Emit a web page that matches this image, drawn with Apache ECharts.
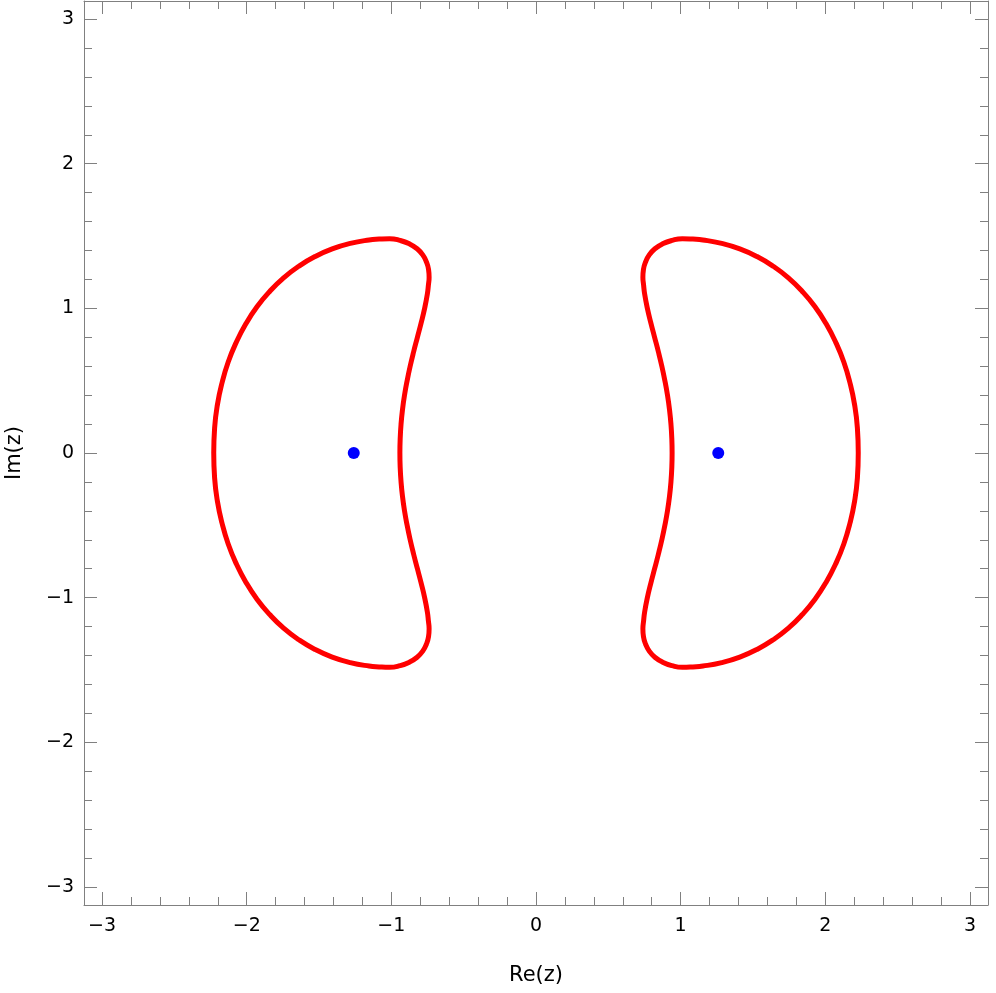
<!DOCTYPE html>
<html>
<head>
<meta charset="utf-8">
<script src="https://cdn.jsdelivr.net/npm/echarts@6/dist/echarts.min.js"></script>
<style>html,body{margin:0;padding:0;background:#fff}#c{width:996px;height:993px}</style>
</head>
<body>
<div id="c"></div>
<script>
// Axis ticks
const majorTicks = [-3, -2, -1, 0, 1, 2, 3];
const minorTicks = [-2.8, -2.6, -2.4, -2.2, -1.8, -1.6, -1.4, -1.2, -0.8, -0.6, -0.4, -0.2,
                    0.2, 0.4, 0.6, 0.8, 1.2, 1.4, 1.6, 1.8, 2.2, 2.4, 2.6, 2.8];
const axisMin = -3.125, axisMax = 3.125;

// Left contour: upper half, then lower half
const leftUpper = [
  [-2.228, 0.000], [-2.222, 0.173], [-2.203, 0.332], [-2.171, 0.484], [-2.128, 0.629],
  [-2.072, 0.766], [-2.006, 0.893], [-1.929, 1.011], [-1.841, 1.117], [-1.745, 1.211],
  [-1.640, 1.291], [-1.528, 1.358], [-1.409, 1.411], [-1.284, 1.449], [-1.154, 1.473],
  [-1.085, 1.479], [-1.012, 1.482], [-0.940, 1.470], [-0.875, 1.446], [-0.822, 1.412],
  [-0.783, 1.370], [-0.758, 1.322], [-0.743, 1.270], [-0.739, 1.215], [-0.744, 1.160],
  [-0.751, 1.100], [-0.770, 1.000], [-0.794, 0.900], [-0.820, 0.800], [-0.846, 0.700],
  [-0.870, 0.600], [-0.891, 0.500], [-0.909, 0.400], [-0.923, 0.300], [-0.933, 0.200],
  [-0.939, 0.100], [-0.941, 0.000]
];
const leftLower = [
  [-0.939, -0.100], [-0.933, -0.200], [-0.923, -0.300], [-0.909, -0.400], [-0.891, -0.500],
  [-0.870, -0.600], [-0.846, -0.700], [-0.820, -0.800], [-0.794, -0.900], [-0.770, -1.000],
  [-0.751, -1.100], [-0.744, -1.160], [-0.739, -1.215], [-0.743, -1.270], [-0.758, -1.322],
  [-0.783, -1.370], [-0.822, -1.412], [-0.875, -1.446], [-0.940, -1.470], [-1.012, -1.482],
  [-1.085, -1.479], [-1.154, -1.473], [-1.284, -1.449], [-1.409, -1.411], [-1.528, -1.358],
  [-1.640, -1.291], [-1.745, -1.211], [-1.841, -1.117], [-1.929, -1.011], [-2.006, -0.893],
  [-2.072, -0.766], [-2.128, -0.629], [-2.171, -0.484], [-2.203, -0.332], [-2.222, -0.173],
  [-2.228, 0.000]
];
// Right contour
const rightUpper = [
  [2.228, 0.000], [2.222, 0.173], [2.203, 0.332], [2.171, 0.484], [2.128, 0.629],
  [2.072, 0.766], [2.006, 0.893], [1.929, 1.011], [1.841, 1.117], [1.745, 1.211],
  [1.640, 1.291], [1.528, 1.358], [1.409, 1.411], [1.284, 1.449], [1.154, 1.473],
  [1.085, 1.479], [1.012, 1.482], [0.940, 1.470], [0.875, 1.446], [0.822, 1.412],
  [0.783, 1.370], [0.758, 1.322], [0.743, 1.270], [0.739, 1.215], [0.744, 1.160],
  [0.751, 1.100], [0.770, 1.000], [0.794, 0.900], [0.820, 0.800], [0.846, 0.700],
  [0.870, 0.600], [0.891, 0.500], [0.909, 0.400], [0.923, 0.300], [0.933, 0.200],
  [0.939, 0.100], [0.941, 0.000]
];
const rightLower = [
  [0.939, -0.100], [0.933, -0.200], [0.923, -0.300], [0.909, -0.400], [0.891, -0.500],
  [0.870, -0.600], [0.846, -0.700], [0.820, -0.800], [0.794, -0.900], [0.770, -1.000],
  [0.751, -1.100], [0.744, -1.160], [0.739, -1.215], [0.743, -1.270], [0.758, -1.322],
  [0.783, -1.370], [0.822, -1.412], [0.875, -1.446], [0.940, -1.470], [1.012, -1.482],
  [1.085, -1.479], [1.154, -1.473], [1.284, -1.449], [1.409, -1.411], [1.528, -1.358],
  [1.640, -1.291], [1.745, -1.211], [1.841, -1.117], [1.929, -1.011], [2.006, -0.893],
  [2.072, -0.766], [2.128, -0.629], [2.171, -0.484], [2.203, -0.332], [2.222, -0.173],
  [2.228, 0.000]
];
// Blue points
const roots = [[-1.26, 0], [1.26, 0]];

const frameColor = '#808080';
const fontFamily = 'DejaVu Sans';
const fmt = v => (v < 0 ? '\u2212' + Math.abs(v) : String(v));

function mkAxis(pos, kind, extra) {
  const major = kind === 'major';
  const labelled = extra && extra.labelled;
  const ax = {
    type: 'value', position: pos, min: axisMin, max: axisMax,
    splitLine: { show: false },
    axisLine: { show: major, onZero: false, lineStyle: { color: frameColor, width: 1 } },
    axisTick: { show: true, inside: true, length: major ? 13 : 8,
                customValues: major ? majorTicks : minorTicks,
                lineStyle: { color: frameColor, width: 1 } },
    axisLabel: { show: !!labelled, customValues: majorTicks, formatter: fmt,
                 fontFamily: fontFamily, fontSize: 19, color: '#000',
                 margin: (pos === 'bottom') ? 12 : 10 },
    axisPointer: { show: false }
  };
  if (extra && extra.name) {
    ax.name = extra.name;
    ax.nameLocation = 'middle';
    ax.nameGap = extra.nameGap;
    ax.nameTextStyle = { fontFamily: fontFamily, fontSize: 21, color: '#000' };
  }
  return ax;
}

const chart = echarts.init(document.getElementById('c'), null, { renderer: 'canvas' });
chart.setOption({
  animation: false,
  backgroundColor: '#fff',
  grid: { left: 84, top: 1, right: 8, bottom: 88, containLabel: false, outerBoundsMode: 'none' },
  xAxis: [
    mkAxis('bottom', 'major', { labelled: true, name: 'Re(z)', nameGap: 60 }),
    mkAxis('bottom', 'minor'),
    mkAxis('top', 'major'),
    mkAxis('top', 'minor')
  ],
  yAxis: [
    mkAxis('left', 'major', { labelled: true, name: 'Im(z)', nameGap: 59 }),
    mkAxis('left', 'minor'),
    mkAxis('right', 'major'),
    mkAxis('right', 'minor')
  ],
  series: [
    { type: 'line', data: leftUpper.concat(leftLower), showSymbol: false, smooth: 0.5,
      lineStyle: { color: '#ff0000', width: 5 }, silent: true },
    { type: 'line', data: rightUpper.concat(rightLower), showSymbol: false, smooth: 0.5,
      lineStyle: { color: '#ff0000', width: 5 }, silent: true },
    { type: 'scatter', data: roots, symbolSize: 12, itemStyle: { color: '#0000ff', opacity: 1 }, silent: true }
  ]
});
</script>
</body>
</html>
